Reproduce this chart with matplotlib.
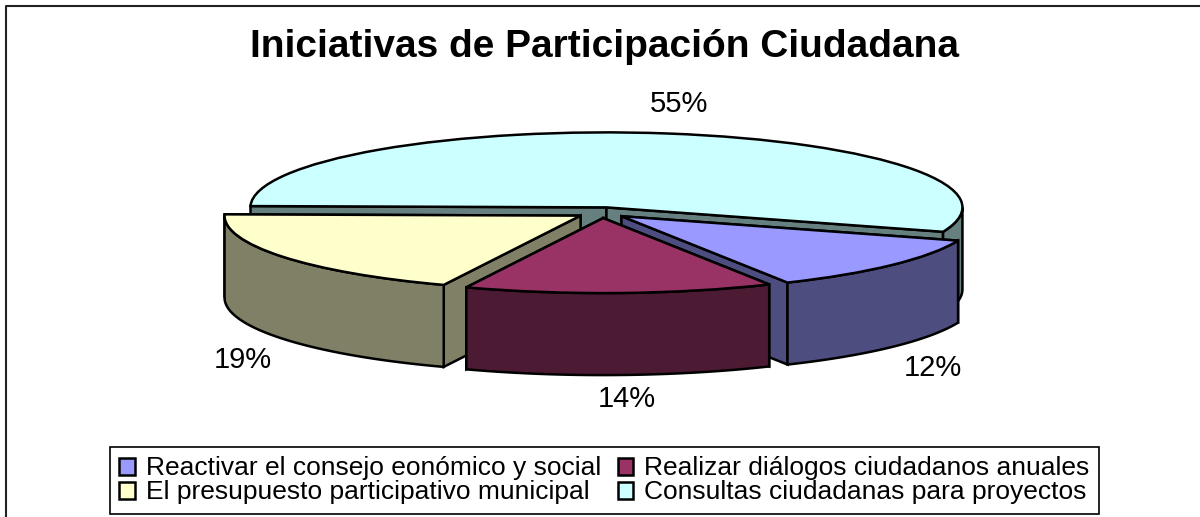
import numpy as np
import matplotlib
matplotlib.use('Agg')
import matplotlib.pyplot as plt
from matplotlib.lines import Line2D
from matplotlib.patches import Polygon

plt.rcParams['font.family'] = ['Liberation Sans', 'DejaVu Sans']

# Data
categories = ['Reactivar el consejo eonómico y social',
              'Realizar diálogos ciudadanos anuales',
              'El presupuesto participativo municipal',
              'Consultas ciudadanas para proyectos']
values = [12, 14, 19, 55]
top_colors = ['#9999FF', '#993366', '#FFFFCC', '#CCFFFF']
side_colors = ['#4D4D80', '#4D1A33', '#808066', '#668080']
title = 'Iniciativas de Participación Ciudadana'

W, H = 1200, 517
# pie geometry in pixels
cx, cy = 602, 212.7
rx, ry = 356, 75
depth = 82 / ry
lw = 1.8

fig = plt.figure(figsize=(W / 100, H / 100), dpi=100)
ax = fig.add_axes([0, 0, 1, 1])

wedges, _ = ax.pie(values, colors=top_colors, startangle=-19, counterclock=False,
                   explode=[0.072] * 4, wedgeprops={'edgecolor': 'black', 'linewidth': lw})
# squash the circle into the tilted ellipse
ax.set_aspect('auto')
ax.set_xlim(-cx / rx, (W - cx) / rx)
ax.set_ylim((cy - H) / ry, cy / ry)
ax.axis('off')


def add_side(points, color, z):
    pts = np.asarray(points)
    low = pts[::-1] - [0, depth]
    ax.add_patch(Polygon(np.vstack([pts, low]), closed=True, facecolor=color,
                         edgecolor='black', linewidth=lw, zorder=z, joinstyle='miter'))


# back to front: consultas, presupuesto, consejo, dialogos
for n, i in enumerate([3, 2, 0, 1]):
    w = wedges[i]
    z = 2 + 2 * n
    c = np.array(w.center)
    # the cut face further back goes first
    cuts = sorted(np.radians([w.theta1, w.theta2]), key=lambda t: -np.sin(t))
    for t in cuts:
        add_side([c, c + [np.cos(t), np.sin(t)]], side_colors[i], z)
    # outer wall, only the run of the arc that faces the viewer
    th = np.radians(np.linspace(w.theta1, w.theta2, 400)) % (2 * np.pi)
    front = th[th >= np.pi]
    if len(front) > 1:
        front = np.sort(front)
        add_side(np.column_stack([c[0] + np.cos(front), c[1] + np.sin(front)]), side_colors[i], z)
    w.set_zorder(z + 1)

fig.text(605 / W, 1 - 47 / H, title, ha='center', va='center', fontsize=28, fontweight='bold')

label_pos = [(933, 368), (627, 399), (243, 360), (679, 104)]
for v, (x, y) in zip(values, label_pos):
    fig.text(x / W, 1 - y / H, f'{v}%', ha='center', va='center', fontsize=21)

# chart area border, only top and left show
fig.add_artist(Line2D([6 / W, 6 / W, 1], [0, 1 - 6 / H, 1 - 6 / H], color='#222222', linewidth=1.5))

order = [0, 2, 1, 3]
leg = fig.legend([wedges[i] for i in order], [categories[i] for i in order], ncol=2,
                 loc='lower left', bbox_to_anchor=(110 / W, 1 - 514 / H), borderaxespad=0,
                 fontsize=19, frameon=True, fancybox=False, edgecolor='black', framealpha=1,
                 handlelength=0.6, handleheight=0.6, handletextpad=0.42, columnspacing=0.6,
                 labelspacing=0.0, borderpad=0.36)
leg.get_frame().set_linewidth(1.2)
leg.set_zorder(20)

fig.savefig('out.png', dpi=100)
